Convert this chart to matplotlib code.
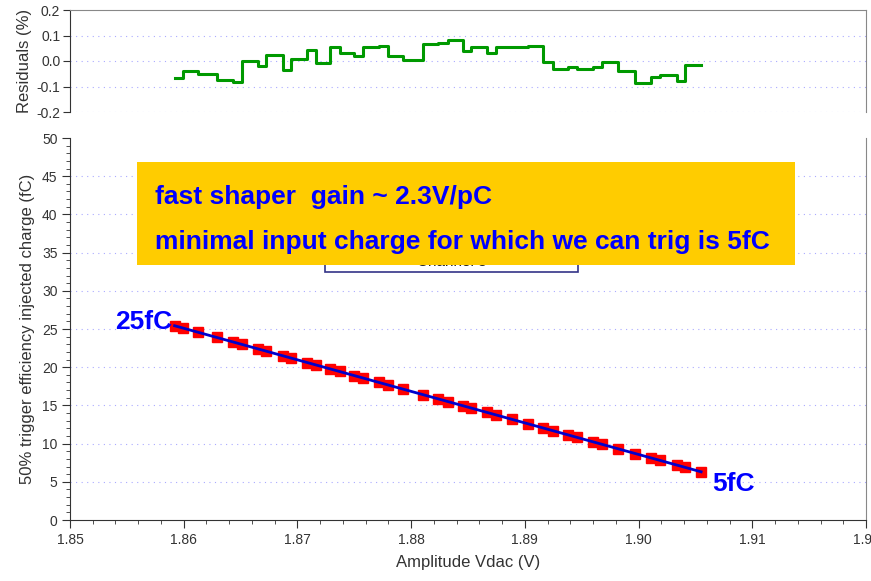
import matplotlib
matplotlib.use("Agg")
import matplotlib.pyplot as plt
from matplotlib.ticker import MultipleLocator, FormatStrFormatter
from matplotlib.patches import Rectangle
import numpy as np

plt.rcParams['font.family'] = ['Liberation Sans Narrow', 'Liberation Sans', 'DejaVu Sans']
plt.rcParams['axes.unicode_minus'] = False

# DAC amplitude (V) and 50% trigger threshold charge (fC)
vdac = [1.8592, 1.8599, 1.8613, 1.8629, 1.8643, 1.8651, 1.8665, 1.8672,
        1.8687, 1.8694, 1.8708, 1.8716, 1.8729, 1.8737, 1.8750, 1.8758,
        1.8772, 1.8780, 1.8793, 1.8810, 1.8824, 1.8832, 1.8846, 1.8853,
        1.8867, 1.8875, 1.8889, 1.8903, 1.8916, 1.8925, 1.8938, 1.8946,
        1.8960, 1.8968, 1.8982, 1.8997, 1.9011, 1.9019, 1.9034, 1.9041,
        1.9055]
charge = [25.4, 25.1, 24.6, 23.9, 23.3, 23.0, 22.4, 22.1, 21.5, 21.2,
          20.6, 20.3, 19.8, 19.5, 18.9, 18.6, 18.0, 17.7, 17.1, 16.4,
          15.9, 15.5, 14.9, 14.7, 14.1, 13.7, 13.2, 12.6, 12.0, 11.7,
          11.1, 10.8, 10.2, 9.9, 9.3, 8.7, 8.1, 7.8, 7.2, 6.9, 6.3]
# fit residuals (%)
resid = [-0.068, -0.038, -0.051, -0.075, -0.083, 0.001, -0.020, 0.024,
         -0.035, 0.008, 0.043, -0.007, 0.056, 0.030, 0.021, 0.054,
         0.060, 0.021, 0.004, 0.067, 0.072, 0.082, 0.040, 0.056,
         0.030, 0.054, 0.055, 0.059, -0.003, -0.033, -0.025, -0.033,
         -0.022, -0.005, -0.039, -0.085, -0.061, -0.055, -0.077, -0.016,
         -0.016]

x = np.array(vdac)
y = np.array(charge)
p = np.polyfit(x, y, 1)

gridc = '#aaaaff'
gls = (0, (1, 4))
axc = '#333333'
W, H = 871, 581
fig = plt.figure(figsize=(W / 100, H / 100), dpi=100)

# residuals panel
axr = fig.add_axes([70 / W, 1 - 112 / H, 796 / W, 102 / H])
axr.step(x, resid, where='post', color='#009900', lw=2.2)
axr.set_xlim(1.85, 1.92)
axr.set_ylim(-0.2, 0.2)
axr.yaxis.set_major_locator(MultipleLocator(0.1))
axr.yaxis.set_major_formatter(FormatStrFormatter('%.1f'))
axr.set_xticks([])
for v in (0.1, 0.0, -0.1, -0.2):
    axr.axhline(v, color=gridc, lw=0.8, ls=gls, zorder=0)
axr.spines['bottom'].set_visible(False)
axr.spines['top'].set_color('#888888')
axr.spines['right'].set_color('#888888')
axr.spines['left'].set_color(axc)
axr.tick_params(axis='y', direction='out', length=5, labelsize=10, colors=axc, pad=2)
axr.set_ylabel('Residuals (%)', fontsize=12, color=axc, labelpad=3)

# main panel
ax = fig.add_axes([70 / W, 1 - 520 / H, 796 / W, 382 / H])
ax.plot(x, y, 's', color='#ff0000', ms=7, mec='#ff0000', zorder=3)
ax.plot(x, np.polyval(p, x), color='#0000cc', lw=2, zorder=4)
ax.set_xlim(1.85, 1.92)
ax.set_ylim(0, 50)
ax.xaxis.set_major_locator(MultipleLocator(0.01))
ax.xaxis.set_minor_locator(MultipleLocator(0.002))
ax.xaxis.set_major_formatter(FormatStrFormatter('%.2f'))
ax.yaxis.set_major_locator(MultipleLocator(5))
ax.yaxis.set_minor_locator(MultipleLocator(1))
for v in range(5, 50, 5):
    ax.axhline(v, color=gridc, lw=0.8, ls=gls, zorder=0)
ax.spines['top'].set_visible(False)
ax.spines['right'].set_color('#888888')
ax.spines['left'].set_color(axc)
ax.spines['bottom'].set_color(axc)
ax.tick_params(which='major', direction='out', length=6, labelsize=10, colors=axc, pad=3)
ax.tick_params(which='minor', direction='out', length=3, colors=axc)
ax.set_xlabel('Amplitude Vdac (V)', fontsize=12, color=axc, labelpad=6)
ax.set_ylabel('50% trigger efficiency injected charge (fC)', fontsize=12, color=axc, labelpad=5)

# legend box partly hidden behind the annotation
lx0, lx1 = 1.85 + (325 - 70) / 11371, 1.85 + (578 - 70) / 11371
ax.add_patch(Rectangle((lx0, 32.5), lx1 - lx0, 3.5, facecolor='white',
                       edgecolor='#333388', lw=1.2, zorder=5))
ax.text((lx0 + lx1) / 2, 33.75, 'Channel 3', ha='center', va='center',
        fontsize=11, color='#222222', zorder=6)

# annotation box
bx0, bx1 = 1.85 + (137 - 70) / 11371, 1.85 + (795 - 70) / 11371
ax.add_patch(Rectangle((bx0, 33.4), bx1 - bx0, 13.45, facecolor='#ffcc00',
                       edgecolor='none', zorder=7, clip_on=False))
tx = 1.85 + (155 - 70) / 11371
bold = dict(fontsize=19, fontweight='bold', color='#0000ff', family=['Liberation Sans'], zorder=8)
ax.text(tx, 42.3, 'fast shaper  gain ~ 2.3V/pC', va='center', **bold)
ax.text(tx, 36.4, 'minimal input charge for which we can trig is 5fC', va='center', **bold)

ax.text(x[0] - 0.0002, y[0] + 0.5, '25fC', ha='right', va='center', **bold)
ax.text(x[-1] + 0.001, y[-1] - 1.6, '5fC', ha='left', va='center', **bold)

fig.savefig('out.png', dpi=100)
